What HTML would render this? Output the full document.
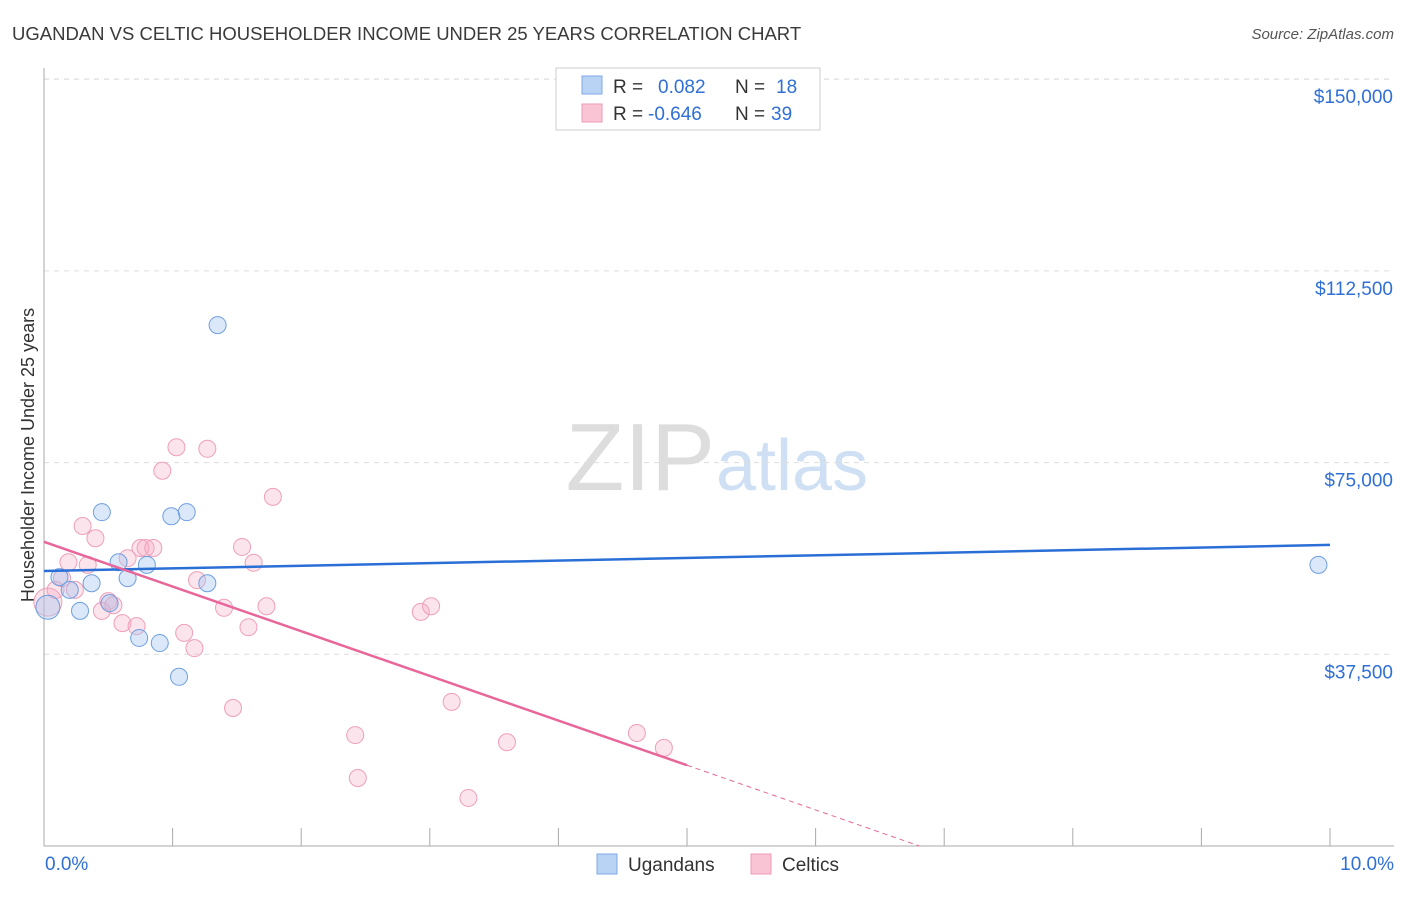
<!DOCTYPE html>
<html><head><meta charset="utf-8"><style>
body{margin:0;background:#fff;font-family:"Liberation Sans",sans-serif;}
svg text{font-family:"Liberation Sans",sans-serif;}
</style></head><body>
<svg id="chart" width="1406" height="892" viewBox="0 0 1406 892">
<text x="12" y="40" font-size="18.5" fill="#3a3a3a">UGANDAN VS CELTIC HOUSEHOLDER INCOME UNDER 25 YEARS CORRELATION CHART</text>
<text x="1394" y="39" font-size="15" fill="#555" font-style="italic" text-anchor="end">Source: ZipAtlas.com</text>
<text x="715" y="490" font-size="96" fill="#ddd" text-anchor="end" font-family="Liberation Serif">ZIP</text>
<text x="716" y="490" font-size="72" fill="#cfdff4">atlas</text>
<text x="34" y="455" font-size="18" fill="#333" text-anchor="middle" transform="rotate(-90 34 455)">Householder Income Under 25 years</text>
<g id="grid"></g><g id="axes"></g><g id="marks"></g>
<g>
<rect x="556" y="68" width="264" height="62" fill="#fff" stroke="#ccc"/>
<rect x="582" y="76" width="20" height="18" fill="#b9d3f5" stroke="#7fa9e6"/>
<rect x="582" y="104" width="20" height="18" fill="#f9c5d5" stroke="#ee9ab4"/>
<text x="613" y="93" font-size="19" fill="#333">R = <tspan fill="#2f6fd6" x="658">0.082</tspan><tspan x="735" fill="#333">N = </tspan><tspan fill="#2f6fd6" x="776">18</tspan></text>
<text x="613" y="120" font-size="19" fill="#333">R = <tspan fill="#2f6fd6" x="648">-0.646</tspan><tspan x="735" fill="#333">N = </tspan><tspan fill="#2f6fd6" x="771">39</tspan></text>
</g>
<g>
<rect x="597" y="854" width="20" height="20" fill="#b9d3f5" stroke="#7fa9e6"/>
<text x="628" y="871" font-size="19" fill="#333">Ugandans</text>
<rect x="751" y="854" width="20" height="20" fill="#f9c5d5" stroke="#ee9ab4"/>
<text x="782" y="871" font-size="19" fill="#333">Celtics</text>
</g>
</svg>
<script>
const yTicks=[37500,75000,112500,150000];
const yTickLabels=["$37,500","$75,000","$112,500","$150,000"];
const xTickLabels=["0.0%","10.0%"];
const ugX=[0.03,0.12,0.20,0.28,0.37,0.45,0.51,0.58,0.65,0.74,0.80,0.90,0.99,1.05,1.11,1.27,1.35,9.91];
const ugY=[46.7,52.6,50.1,46.0,51.4,65.3,47.5,55.5,52.4,40.7,55.0,39.7,64.5,33.1,65.3,51.4,101.9,55.0];
const ceX=[0.03,0.09,0.14,0.19,0.24,0.30,0.34,0.40,0.45,0.50,0.54,0.61,0.65,0.72,0.75,0.79,0.85,0.92,1.03,1.09,1.17,1.19,1.27,1.40,1.47,1.54,1.59,1.63,1.73,1.78,2.42,2.44,2.93,3.01,3.17,3.60,4.61,4.82,3.30];
const ceY=[47.7,50.1,52.4,55.5,50.1,62.6,55.0,60.2,46.0,47.9,47.1,43.6,56.3,43.0,58.3,58.3,58.3,73.4,78.0,41.7,38.7,52.0,77.7,46.6,27.0,58.5,42.8,55.4,46.9,68.3,21.7,13.3,45.8,46.9,28.2,20.3,22.1,19.2,9.4];
const ugTrend=[53.8,58.9];
const ceTrend=[59.5,15.8];
const ceTrendEndX=5.0;
const X=v=>44+v*128.6;
const Y=k=>846-k*1000*191.7/37500;
const NS="http://www.w3.org/2000/svg";
function mk(tag,attrs,parent){const e=document.createElementNS(NS,tag);for(const k in attrs)e.setAttribute(k,attrs[k]);document.getElementById(parent).appendChild(e);return e;}
yTicks.forEach((t,i)=>{
 const l=mk('line',{x1:44,x2:1394,y1:Y(t/1000),y2:Y(t/1000),stroke:'#ddd','stroke-dasharray':'5,5'},'grid');
 
 
 const tx=mk('text',{x:1393,y:Y(t/1000)+24,'font-size':19,fill:'#2f6fd6','text-anchor':'end'},'grid');
 tx.textContent=yTickLabels[i];
 
 
});
const tg=mk('line',{x1:44,x2:1394,y1:79,y2:79,stroke:'#ddd','stroke-dasharray':'5,5'},'grid');


const ya=mk('line',{x1:44,x2:44,y1:68,y2:846,stroke:'#aaa'},'axes');


const xa=mk('line',{x1:44,x2:1394,y1:846,y2:846,stroke:'#aaa'},'axes');


for(let i=0;i<=10;i++){
 const t=mk('line',{x1:X(i),x2:X(i),y1:828,y2:846,stroke:'#aaa'},'axes');
 
 
}
[[0,'start',45],[10,'end',1394]].forEach((a,i)=>{
 const t=mk('text',{x:a[2],y:870,'font-size':19,fill:'#2f6fd6','text-anchor':a[1]},'axes');
 t.textContent=xTickLabels[i];
 
 
});
ceX.forEach((x,i)=>{
 const c=mk('circle',{cx:X(x),cy:Y(ceY[i]),r:i==0?14:8.5,fill:'rgba(246,170,195,0.32)',stroke:'#ef9fb8','stroke-width':1},'marks');
 
 
});
ugX.forEach((x,i)=>{
 const c=mk('circle',{cx:X(x),cy:Y(ugY[i]),r:i==0?12:8.5,fill:'rgba(160,195,240,0.38)',stroke:'#6f9fe0','stroke-width':1},'marks');
 
 
});
const bt=mk('line',{x1:X(0),x2:X(10),y1:Y(ugTrend[0]),y2:Y(ugTrend[1]),stroke:'#2a6fd6','stroke-width':2.5},'marks');


const slope=(ceTrend[1]-ceTrend[0])/ceTrendEndX;
const pt=mk('line',{x1:X(0),x2:X(ceTrendEndX),y1:Y(ceTrend[0]),y2:Y(ceTrend[1]),stroke:'#e8669a','stroke-width':2.5},'marks');


const zx=-ceTrend[0]/slope;
const pd=mk('line',{x1:X(ceTrendEndX),x2:X(zx),y1:Y(ceTrend[1]),y2:Y(0),stroke:'#e8669a','stroke-width':1,'stroke-dasharray':'5,4'},'marks');


</script>
</body></html>
